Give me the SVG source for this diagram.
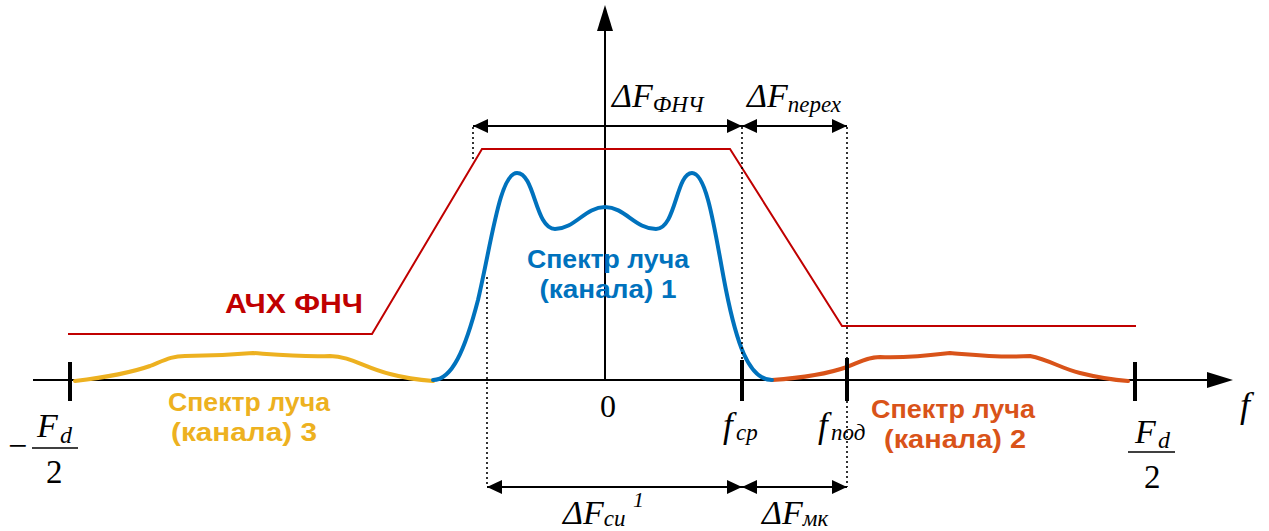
<svg xmlns="http://www.w3.org/2000/svg" width="1269" height="531" viewBox="0 0 1269 531">
<style>
.ax{stroke:#000;stroke-width:2;fill:none}
.tick{stroke:#000;stroke-width:4;fill:none}
.dot{stroke:#000;stroke-width:1.6;stroke-dasharray:2 3;fill:none}
.dim{stroke:#000;stroke-width:2;fill:none;marker-start:url(#ah);marker-end:url(#ah)}
.curve{stroke-width:4;fill:none;stroke-linecap:round;stroke-linejoin:round}
.m{font-family:"Liberation Serif","Times New Roman",serif;font-style:italic;fill:#000}
.r{font-family:"Liberation Serif","Times New Roman",serif;fill:#000}
.lbl{font-family:"Liberation Sans",Arial,sans-serif;font-weight:bold}
</style>
<defs>
<marker id="ah" viewBox="0 0 15 14" refX="15" refY="7" markerWidth="15" markerHeight="14" markerUnits="userSpaceOnUse" orient="auto-start-reverse">
<path d="M0,0 L15,7 L0,14 Z" fill="#000"/>
</marker>
</defs>
<rect width="1269" height="531" fill="#fff"/>

<g id="axes">
<line class="ax" x1="33" y1="380" x2="1210" y2="380"/>
<path d="M1233,380 L1207,372 L1207,388 Z" fill="#000"/>
<line class="ax" x1="605" y1="28" x2="605" y2="380"/>
<path d="M605,5 L597,31 L613,31 Z" fill="#000"/>
</g>

<g id="lpf">
<path d="M68,334 L372,334 L482,149 L730,149 L842,326 L1136,326" stroke="#C00000" stroke-width="2" fill="none"/>
<text class="lbl" x="225" y="313" font-size="28" fill="#C00000" textLength="138" lengthAdjust="spacingAndGlyphs">АЧХ ФНЧ</text>
</g>

<g id="spectrum3">
<path class="curve" stroke="#EDB120" d="M75,381 C100,378 130,373 150,366 C165,360 172,356 185,356 C210,356 230,355 253,353 C280,355 300,357 330,356 C350,356 365,368 390,374 C405,378 420,380 433,381"/>
<text class="lbl" font-size="26.5" fill="#EDB120" text-anchor="middle"><tspan x="249" y="411" textLength="162" lengthAdjust="spacingAndGlyphs">Спектр луча</tspan><tspan x="244" y="441" textLength="146" lengthAdjust="spacingAndGlyphs">(канала) 3</tspan></text>
</g>

<g id="spectrum2">
<path class="curve" stroke="#D95319" d="M772,380 C800,378 830,373 847,367 C860,362 868,357 880,357 C905,358 925,356 950,353 C975,355 1000,358 1030,356 C1050,360 1060,368 1080,373 C1100,378 1115,380 1128,381"/>
<text class="lbl" font-size="26.5" fill="#D95319" text-anchor="middle"><tspan x="953" y="418" textLength="164" lengthAdjust="spacingAndGlyphs">Спектр луча</tspan><tspan x="955" y="448" textLength="142" lengthAdjust="spacingAndGlyphs">(канала) 2</tspan></text>
</g>

<g id="spectrum1">
<path class="curve" stroke="#0072BD" d="M433,380 C452,380 465,350 478,300 C492,240 500,173 517,173 C535,173 535,229 555,229 C575,229 585,207 605,207 C625,207 635,229 656,229 C676,229 676,173 692,173 C708,173 716,240 726,290 C736,340 748,380 772,380"/>
<text class="lbl" font-size="26.5" fill="#0072BD" text-anchor="middle"><tspan x="608" y="268" textLength="162" lengthAdjust="spacingAndGlyphs">Спектр луча</tspan><tspan x="608" y="298" textLength="137" lengthAdjust="spacingAndGlyphs">(канала) 1</tspan></text>
</g>

<g id="ticks">
<line class="tick" x1="70" y1="362" x2="70" y2="401"/>
<line class="tick" x1="742" y1="360" x2="742" y2="401"/>
<line class="tick" x1="847" y1="358" x2="847" y2="401"/>
<line class="tick" x1="1135" y1="362" x2="1135" y2="401"/>
</g>

<g id="connectors">
<line class="dot" x1="473" y1="127" x2="473" y2="162"/>
<line class="dot" x1="742" y1="127" x2="742" y2="360"/>
<line class="dot" x1="847" y1="127" x2="847" y2="358"/>
<line class="dot" x1="487" y1="277" x2="487" y2="487"/>
<line class="dot" x1="847" y1="401" x2="847" y2="487"/>
<line class="dim" x1="473" y1="126" x2="742" y2="126"/>
<line class="dim" x1="742" y1="126" x2="847" y2="126"/>
<line class="dim" x1="487" y1="487" x2="742" y2="487"/>
<line class="dim" x1="742" y1="487" x2="847" y2="487"/>
</g>

<g id="labels">
<text class="m" x="612" y="107" font-size="34">ΔF<tspan font-size="23" dy="5">ФНЧ</tspan></text>
<text class="m" x="747" y="107" font-size="34">ΔF<tspan font-size="23" dy="5">перех</tspan></text>
<text class="m" x="563" y="524" font-size="34">ΔF<tspan font-size="23" dy="2">си</tspan></text>
<text class="m" x="633" y="507" font-size="22">1</text>
<text class="m" x="762" y="524" font-size="34">ΔF<tspan font-size="23" dy="2">мк</tspan></text>
<text class="r" x="600" y="417" font-size="32">0</text>
<text class="m" x="723" y="437" font-size="35">f</text>
<text class="m" x="736" y="440" font-size="23">ср</text>
<text class="m" x="818" y="437" font-size="35">f</text>
<text class="m" x="831" y="440" font-size="23">под</text>
<text class="m" x="1240" y="417" font-size="36">f</text>
<text class="r" x="8" y="457" font-size="34">−</text>
<text class="m" x="37" y="437" font-size="34">F</text>
<text class="m" x="60" y="443" font-size="24">d</text>
<line x1="32" y1="448" x2="78" y2="448" stroke="#000" stroke-width="1.5"/>
<text class="r" x="46" y="483" font-size="33">2</text>
<text class="m" x="1135" y="443" font-size="34">F</text>
<text class="m" x="1158" y="448" font-size="24">d</text>
<line x1="1128" y1="452" x2="1175" y2="452" stroke="#000" stroke-width="1.5"/>
<text class="r" x="1144" y="488" font-size="33">2</text>
</g>
</svg>
